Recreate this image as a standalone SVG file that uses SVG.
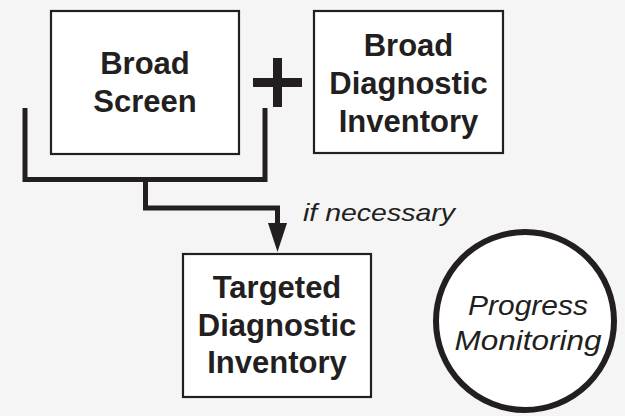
<svg xmlns="http://www.w3.org/2000/svg" width="625" height="416" viewBox="0 0 625 416">
<style>
.box{fill:#fff;stroke:#231f20;stroke-width:2.2}
.lbl{font-family:"Liberation Sans",Arial,sans-serif;font-weight:bold;font-size:31px;fill:#231f20;text-anchor:middle}
.it{font-family:"Liberation Sans",Arial,sans-serif;font-style:italic;fill:#231f20}
.wire{fill:none;stroke:#231f20;stroke-width:5;stroke-linejoin:miter;stroke-linecap:butt}
</style>
<rect width="625" height="416" fill="#f5f5f5"/>
<g id="connectors">
<path class="wire" d="M25 108 V179.5 H265 V108"/>
<path class="wire" d="M145.5 179.5 V208 H277.5 V226"/>
<polygon points="268,223 287,223 277.5,252" fill="#231f20"/>
</g>
<g id="broad-screen">
<rect class="box" x="51" y="11" width="188" height="143"/>
<text class="lbl" x="145" y="74">Broad</text>
<text class="lbl" x="145" y="112">Screen</text>
</g>
<g id="plus">
<rect x="253" y="78" width="49" height="9" fill="#231f20"/>
<rect x="273" y="58" width="9" height="49" fill="#231f20"/>
</g>
<g id="broad-diagnostic">
<rect class="box" x="314" y="11" width="189" height="142"/>
<text class="lbl" x="408.5" y="56">Broad</text>
<text class="lbl" x="408.5" y="94">Diagnostic</text>
<text class="lbl" x="408.5" y="132">Inventory</text>
</g>
<g id="targeted-diagnostic">
<rect class="box" x="183" y="254" width="188" height="143"/>
<text class="lbl" x="277" y="298">Targeted</text>
<text class="lbl" x="277" y="336">Diagnostic</text>
<text class="lbl" x="277" y="373">Inventory</text>
</g>
<text class="it" x="303" y="221" font-size="24" textLength="152" lengthAdjust="spacingAndGlyphs">if necessary</text>
<g id="progress-monitoring">
<circle cx="525" cy="321" r="89" fill="#fff" stroke="#231f20" stroke-width="6"/>
<text class="it" x="528" y="315" font-size="27" text-anchor="middle" textLength="120" lengthAdjust="spacingAndGlyphs">Progress</text>
<text class="it" x="528" y="350" font-size="27" text-anchor="middle" textLength="147" lengthAdjust="spacingAndGlyphs">Monitoring</text>
</g>
</svg>
